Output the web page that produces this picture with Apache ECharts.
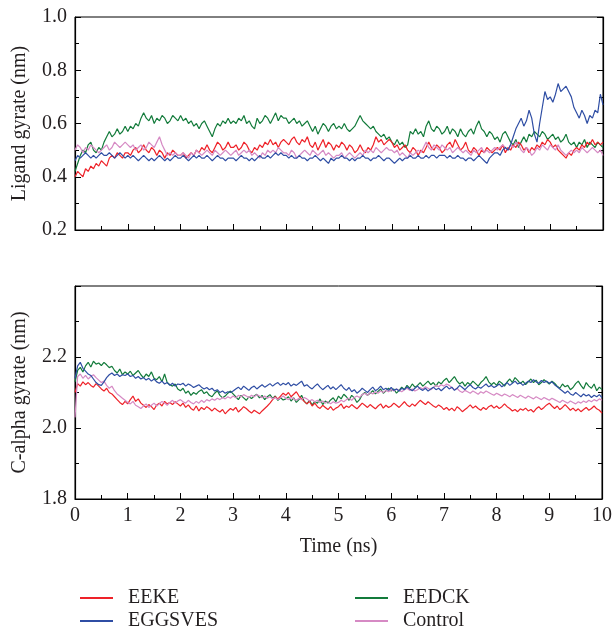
<!DOCTYPE html>
<html>
<head>
<meta charset="utf-8">
<script src="https://cdn.jsdelivr.net/npm/echarts@6/dist/echarts.min.js"></script>
<style>html,body{margin:0;padding:0;background:#fff}#c{width:615px;height:631px}</style>
</head>
<body>
<div id="c"></div>
<script>
// Sampling step of the trajectories (ns)
const timeStep = 0.05;
const seriesNames = ['EEKE', 'EGGSVES', 'EEDCK', 'Control'];
const xTicks = [0, 1, 2, 3, 4, 5, 6, 7, 8, 9, 10];
const ligandTicks = [0.2, 0.4, 0.6, 0.8, 1.0];
const calphaTicks = [1.8, 2.0, 2.2];

// ---- Ligand gyrate (nm) ----
const ligEEKE = [
0.40,0.42,0.41,0.40,0.43,0.42,0.44,0.43,0.45,0.44,0.46,0.45,0.44,0.47,0.48,0.47,0.49,0.48,0.47,0.49,
0.49,0.48,0.50,0.51,0.49,0.50,0.52,0.50,0.49,0.51,0.50,0.48,0.50,0.49,0.47,0.49,0.48,0.50,0.49,0.48,
0.48,0.49,0.47,0.48,0.49,0.48,0.50,0.49,0.51,0.50,0.52,0.50,0.49,0.51,0.53,0.52,0.50,0.51,0.53,0.51,
0.51,0.52,0.50,0.51,0.53,0.52,0.50,0.49,0.51,0.50,0.52,0.51,0.53,0.52,0.54,0.52,0.53,0.51,0.53,0.54,
0.53,0.52,0.54,0.55,0.53,0.52,0.54,0.53,0.55,0.52,0.51,0.53,0.50,0.52,0.54,0.51,0.53,0.52,0.50,0.52,
0.51,0.53,0.52,0.50,0.52,0.51,0.49,0.50,0.52,0.50,0.49,0.51,0.50,0.52,0.55,0.53,0.54,0.52,0.53,0.54,
0.53,0.51,0.52,0.50,0.51,0.52,0.50,0.49,0.51,0.50,0.48,0.50,0.49,0.51,0.53,0.51,0.50,0.52,0.51,0.49,
0.50,0.52,0.53,0.51,0.54,0.52,0.50,0.51,0.53,0.50,0.49,0.51,0.50,0.48,0.50,0.49,0.51,0.50,0.49,0.50,
0.51,0.50,0.52,0.49,0.51,0.50,0.52,0.51,0.53,0.52,0.50,0.51,0.49,0.51,0.50,0.52,0.51,0.53,0.52,0.54,
0.53,0.51,0.52,0.50,0.49,0.48,0.47,0.49,0.48,0.50,0.51,0.50,0.52,0.51,0.53,0.52,0.54,0.52,0.53,0.52,0.53];
const ligEGGSVES = [
0.46,0.48,0.47,0.48,0.49,0.48,0.47,0.48,0.47,0.48,0.49,0.48,0.48,0.49,0.48,0.47,0.48,0.49,0.48,0.47,
0.48,0.47,0.48,0.47,0.46,0.47,0.48,0.47,0.46,0.47,0.46,0.47,0.48,0.47,0.46,0.47,0.46,0.47,0.48,0.47,
0.47,0.48,0.47,0.46,0.47,0.48,0.47,0.48,0.47,0.47,0.48,0.47,0.46,0.47,0.48,0.47,0.47,0.46,0.47,0.47,
0.47,0.46,0.47,0.48,0.47,0.47,0.46,0.47,0.46,0.47,0.48,0.47,0.47,0.48,0.47,0.48,0.49,0.48,0.49,0.48,
0.48,0.47,0.48,0.47,0.47,0.48,0.47,0.47,0.46,0.47,0.47,0.48,0.47,0.46,0.47,0.46,0.45,0.47,0.46,0.47,
0.47,0.48,0.47,0.47,0.46,0.47,0.46,0.47,0.47,0.48,0.47,0.47,0.46,0.47,0.47,0.48,0.47,0.46,0.47,0.47,
0.46,0.45,0.46,0.47,0.46,0.47,0.47,0.48,0.47,0.47,0.48,0.47,0.47,0.48,0.47,0.48,0.48,0.47,0.48,0.48,
0.48,0.47,0.48,0.47,0.47,0.48,0.47,0.47,0.46,0.47,0.47,0.46,0.47,0.48,0.47,0.46,0.45,0.47,0.48,0.49,
0.49,0.48,0.50,0.51,0.50,0.52,0.55,0.58,0.60,0.62,0.59,0.61,0.65,0.62,0.56,0.53,0.60,0.66,0.72,0.69,
0.70,0.68,0.71,0.75,0.72,0.73,0.74,0.72,0.70,0.66,0.64,0.62,0.65,0.63,0.60,0.63,0.62,0.65,0.64,0.71,0.67];
const ligEEDCK = [
0.42,0.45,0.48,0.50,0.49,0.52,0.53,0.50,0.49,0.51,0.50,0.53,0.55,0.57,0.55,0.56,0.58,0.56,0.57,0.59,
0.57,0.59,0.58,0.60,0.59,0.62,0.64,0.62,0.61,0.63,0.60,0.62,0.61,0.63,0.62,0.60,0.61,0.63,0.62,0.61,
0.63,0.61,0.62,0.60,0.61,0.59,0.60,0.58,0.60,0.61,0.59,0.57,0.55,0.58,0.60,0.59,0.61,0.60,0.62,0.60,
0.61,0.60,0.62,0.61,0.63,0.60,0.61,0.59,0.58,0.62,0.60,0.61,0.63,0.62,0.60,0.62,0.64,0.61,0.63,0.62,
0.62,0.60,0.61,0.62,0.60,0.61,0.59,0.60,0.61,0.59,0.57,0.59,0.56,0.58,0.60,0.59,0.57,0.59,0.60,0.58,
0.59,0.58,0.60,0.58,0.57,0.58,0.59,0.61,0.63,0.61,0.60,0.59,0.58,0.59,0.57,0.56,0.55,0.56,0.54,0.55,
0.53,0.52,0.54,0.52,0.53,0.51,0.52,0.57,0.56,0.58,0.56,0.57,0.55,0.59,0.61,0.58,0.57,0.59,0.58,0.56,
0.57,0.59,0.56,0.58,0.57,0.55,0.58,0.56,0.55,0.57,0.58,0.56,0.59,0.61,0.58,0.57,0.55,0.57,0.56,0.54,
0.55,0.53,0.56,0.57,0.55,0.53,0.52,0.54,0.51,0.53,0.55,0.53,0.56,0.55,0.57,0.56,0.55,0.57,0.56,0.54,
0.55,0.56,0.54,0.55,0.53,0.54,0.56,0.53,0.52,0.53,0.51,0.53,0.52,0.54,0.51,0.53,0.52,0.51,0.53,0.52,0.51];
const ligControl = [
0.50,0.52,0.51,0.49,0.51,0.50,0.52,0.51,0.50,0.49,0.50,0.51,0.52,0.50,0.51,0.53,0.52,0.51,0.52,0.53,
0.52,0.51,0.52,0.50,0.51,0.52,0.50,0.51,0.53,0.52,0.51,0.53,0.55,0.52,0.50,0.48,0.49,0.48,0.49,0.48,
0.48,0.49,0.48,0.47,0.49,0.48,0.50,0.49,0.48,0.49,0.50,0.49,0.48,0.50,0.49,0.48,0.49,0.50,0.49,0.48,
0.49,0.50,0.48,0.49,0.50,0.49,0.50,0.48,0.49,0.48,0.47,0.49,0.48,0.50,0.49,0.50,0.49,0.51,0.50,0.49,
0.49,0.48,0.50,0.49,0.47,0.48,0.49,0.50,0.49,0.48,0.50,0.49,0.48,0.49,0.50,0.48,0.49,0.48,0.47,0.48,
0.48,0.49,0.47,0.48,0.49,0.48,0.47,0.48,0.49,0.48,0.50,0.49,0.50,0.49,0.51,0.50,0.49,0.50,0.51,0.50,
0.50,0.49,0.50,0.48,0.49,0.48,0.47,0.49,0.48,0.49,0.50,0.49,0.51,0.53,0.51,0.50,0.52,0.51,0.50,0.52,
0.51,0.50,0.51,0.49,0.50,0.51,0.50,0.49,0.50,0.49,0.48,0.50,0.49,0.50,0.51,0.49,0.50,0.49,0.50,0.51,
0.50,0.51,0.52,0.51,0.50,0.52,0.51,0.53,0.52,0.50,0.49,0.51,0.50,0.48,0.49,0.51,0.50,0.52,0.51,0.50,
0.52,0.51,0.50,0.52,0.50,0.49,0.48,0.49,0.50,0.49,0.50,0.49,0.51,0.50,0.49,0.50,0.51,0.50,0.49,0.50,0.48];

// ---- C-alpha gyrate (nm) ----
const caEEKE = [
2.100,2.125,2.118,2.130,2.122,2.128,2.120,2.115,2.125,2.118,2.110,2.104,2.112,2.100,2.096,2.088,2.080,2.072,2.066,2.075,
2.068,2.080,2.090,2.075,2.082,2.070,2.064,2.058,2.066,2.060,2.052,2.065,2.070,2.062,2.075,2.068,2.072,2.066,2.074,2.068,
2.062,2.070,2.058,2.065,2.055,2.050,2.062,2.048,2.058,2.052,2.060,2.055,2.048,2.056,2.050,2.045,2.052,2.040,2.048,2.055,
2.050,2.058,2.045,2.052,2.060,2.055,2.048,2.042,2.050,2.045,2.040,2.048,2.055,2.062,2.070,2.080,2.088,2.082,2.090,2.098,
2.092,2.100,2.088,2.095,2.102,2.090,2.082,2.075,2.068,2.075,2.062,2.070,2.060,2.055,2.064,2.058,2.052,2.060,2.050,2.056,
2.060,2.068,2.055,2.062,2.058,2.066,2.060,2.054,2.062,2.070,2.064,2.058,2.066,2.060,2.054,2.062,2.068,2.056,2.064,2.058,
2.062,2.070,2.064,2.058,2.066,2.074,2.065,2.060,2.068,2.062,2.070,2.078,2.072,2.066,2.074,2.068,2.062,2.058,2.065,2.060,
2.052,2.058,2.050,2.056,2.048,2.060,2.054,2.046,2.052,2.058,2.065,2.056,2.062,2.055,2.050,2.058,2.052,2.060,2.064,2.056,
2.062,2.055,2.060,2.068,2.060,2.055,2.048,2.052,2.046,2.054,2.050,2.056,2.048,2.052,2.045,2.054,2.060,2.052,2.058,2.065,
2.070,2.062,2.055,2.062,2.052,2.058,2.066,2.058,2.050,2.056,2.048,2.054,2.046,2.052,2.058,2.050,2.055,2.062,2.054,2.050,2.042];
const caEGGSVES = [
2.140,2.175,2.185,2.168,2.160,2.152,2.148,2.138,2.128,2.122,2.120,2.130,2.142,2.150,2.155,2.148,2.152,2.145,2.150,2.148,
2.152,2.145,2.148,2.140,2.145,2.138,2.142,2.135,2.140,2.132,2.138,2.130,2.126,2.132,2.124,2.128,2.120,2.126,2.118,2.124,
2.122,2.126,2.118,2.124,2.120,2.114,2.118,2.122,2.115,2.110,2.114,2.108,2.112,2.104,2.108,2.100,2.104,2.098,2.102,2.100,
2.104,2.110,2.115,2.108,2.118,2.112,2.106,2.114,2.118,2.110,2.116,2.122,2.115,2.120,2.125,2.118,2.124,2.128,2.120,2.126,
2.122,2.128,2.118,2.124,2.120,2.126,2.132,2.118,2.122,2.115,2.110,2.118,2.124,2.115,2.108,2.114,2.120,2.110,2.116,2.108,
2.115,2.122,2.112,2.106,2.114,2.102,2.108,2.098,2.104,2.112,2.106,2.100,2.108,2.115,2.105,2.110,2.118,2.108,2.112,2.106,
2.114,2.106,2.110,2.104,2.112,2.108,2.116,2.110,2.105,2.112,2.118,2.110,2.106,2.112,2.104,2.110,2.115,2.108,2.112,2.105,
2.112,2.118,2.110,2.115,2.106,2.112,2.120,2.114,2.108,2.116,2.122,2.114,2.110,2.116,2.112,2.118,2.124,2.116,2.120,2.114,
2.118,2.124,2.116,2.122,2.128,2.120,2.126,2.132,2.124,2.128,2.120,2.126,2.132,2.128,2.136,2.130,2.126,2.134,2.128,2.132,
2.126,2.130,2.122,2.116,2.110,2.104,2.098,2.104,2.096,2.092,2.100,2.094,2.088,2.096,2.090,2.094,2.086,2.092,2.088,2.094,2.086];
const caEEDCK = [
2.130,2.162,2.171,2.158,2.175,2.185,2.172,2.188,2.180,2.183,2.176,2.185,2.178,2.170,2.174,2.162,2.155,2.166,2.150,2.158,
2.152,2.160,2.148,2.155,2.162,2.150,2.141,2.152,2.145,2.158,2.140,2.136,2.145,2.130,2.152,2.128,2.122,2.118,2.124,2.110,
2.105,2.112,2.098,2.104,2.092,2.100,2.095,2.103,2.108,2.097,2.102,2.092,2.088,2.098,2.105,2.092,2.085,2.090,2.098,2.104,
2.096,2.088,2.080,2.092,2.085,2.078,2.088,2.083,2.090,2.095,2.085,2.092,2.080,2.088,2.094,2.083,2.090,2.078,2.085,2.079,
2.082,2.088,2.076,2.085,2.072,2.080,2.092,2.075,2.068,2.078,2.065,2.075,2.070,2.082,2.066,2.076,2.070,2.079,2.085,2.074,
2.090,2.082,2.095,2.088,2.078,2.092,2.085,2.072,2.080,2.094,2.100,2.092,2.098,2.105,2.096,2.103,2.110,2.098,2.105,2.112,
2.104,2.110,2.098,2.106,2.115,2.108,2.120,2.112,2.124,2.115,2.120,2.128,2.118,2.125,2.132,2.122,2.128,2.118,2.130,2.124,
2.134,2.140,2.128,2.136,2.145,2.132,2.124,2.130,2.118,2.128,2.122,2.132,2.125,2.118,2.128,2.135,2.145,2.130,2.122,2.128,
2.120,2.132,2.126,2.118,2.130,2.138,2.128,2.142,2.134,2.125,2.132,2.122,2.130,2.138,2.128,2.135,2.122,2.128,2.136,2.130,
2.124,2.132,2.126,2.118,2.112,2.124,2.116,2.120,2.108,2.114,2.125,2.132,2.120,2.110,2.128,2.118,2.112,2.124,2.105,2.115,2.108];
const caControl = [
2.030,2.145,2.152,2.140,2.148,2.138,2.145,2.150,2.142,2.135,2.128,2.132,2.120,2.112,2.118,2.105,2.096,2.090,2.084,2.078,
2.072,2.068,2.075,2.064,2.060,2.055,2.062,2.068,2.058,2.064,2.070,2.062,2.068,2.075,2.070,2.064,2.072,2.078,2.070,2.076,
2.080,2.074,2.070,2.078,2.072,2.068,2.075,2.070,2.078,2.072,2.080,2.076,2.082,2.078,2.084,2.080,2.086,2.082,2.088,2.084,
2.090,2.085,2.092,2.088,2.094,2.090,2.086,2.092,2.088,2.094,2.090,2.085,2.090,2.084,2.088,2.082,2.086,2.080,2.085,2.090,
2.084,2.080,2.086,2.082,2.078,2.084,2.080,2.086,2.082,2.076,2.080,2.074,2.078,2.072,2.076,2.070,2.075,2.068,2.074,2.070,
2.072,2.078,2.074,2.080,2.084,2.078,2.086,2.090,2.086,2.094,2.098,2.092,2.100,2.096,2.102,2.098,2.104,2.100,2.106,2.102,
2.108,2.104,2.110,2.106,2.102,2.108,2.112,2.106,2.110,2.104,2.108,2.114,2.110,2.116,2.112,2.108,2.114,2.120,2.116,2.122,
2.118,2.124,2.120,2.114,2.108,2.112,2.104,2.100,2.106,2.102,2.098,2.104,2.100,2.095,2.102,2.098,2.104,2.100,2.096,2.092,
2.098,2.094,2.090,2.096,2.092,2.088,2.094,2.090,2.086,2.092,2.088,2.084,2.090,2.086,2.082,2.088,2.084,2.080,2.086,2.082,
2.078,2.084,2.080,2.076,2.072,2.078,2.074,2.070,2.076,2.072,2.068,2.074,2.070,2.076,2.072,2.078,2.074,2.080,2.076,2.082,2.078];

const colors = { EEKE: '#ee2229', EGGSVES: '#2f4ea4', EEDCK: '#137b3b', Control: '#d68ac4' };
const FONT = '"Liberation Serif", "DejaVu Serif", serif';
const TXT = '#231f20';

function pairs(arr) { return arr.map((v, i) => [+(i * timeStep).toFixed(2), v]); }

const chart = echarts.init(document.getElementById('c'), null, { renderer: 'canvas' });

const grids = [
  { left: 75, right: 12, top: 17, height: 213, show: true, borderColor: '#000', borderWidth: 1 },
  { left: 75, right: 12, top: 286, height: 213, show: true, borderColor: '#000', borderWidth: 1 }
];

function xAxis(gi, showLabels) {
  return {
    type: 'value', gridIndex: gi, min: xTicks[0], max: xTicks[xTicks.length - 1], interval: 1,
    axisLine: { show: true, lineStyle: { color: '#000', width: 1.2 } },
    axisTick: { show: true, inside: true, length: 6, lineStyle: { color: '#000' } },
    minorTick: { show: true, splitNumber: 2, length: 4, lineStyle: { color: '#000' } },
    splitLine: { show: false },
    axisLabel: { show: showLabels, fontFamily: FONT, fontSize: 20, color: TXT, margin: 7 },
    name: showLabels ? 'Time (ns)' : '', nameLocation: 'middle', nameGap: 38,
    nameTextStyle: { fontFamily: FONT, fontSize: 20, color: TXT }
  };
}
function yAxis(gi, ticks, minV, maxV, name, right) {
  return {
    type: 'value', gridIndex: gi, min: minV, max: maxV, interval: 0.2, position: right ? 'right' : 'left',
    axisLine: { show: true, lineStyle: { color: '#000', width: 1.2 } },
    axisTick: { show: true, inside: true, length: 6, lineStyle: { color: '#000' } },
    minorTick: { show: true, splitNumber: 2, length: 4, lineStyle: { color: '#000' } },
    splitLine: { show: false },
    axisLabel: {
      show: !right, fontFamily: FONT, fontSize: 20, color: TXT, margin: 8,
      formatter: v => { const t = ticks.find(x => Math.abs(x - v) < 1e-6); return t === undefined ? '' : t.toFixed(1); }
    },
    name: right ? '' : name, nameLocation: 'middle', nameGap: 45,
    nameTextStyle: { fontFamily: FONT, fontSize: 20, color: TXT }
  };
}

const ligData = { EEKE: ligEEKE, EGGSVES: ligEGGSVES, EEDCK: ligEEDCK, Control: ligControl };
const caData = { EEKE: caEEKE, EGGSVES: caEGGSVES, EEDCK: caEEDCK, Control: caControl };
const drawOrder = ['EEDCK', 'EEKE', 'Control', 'EGGSVES'];
const series = [];
drawOrder.forEach(n => {
  series.push({ name: n, type: 'line', xAxisIndex: 0, yAxisIndex: 0, data: pairs(ligData[n]), showSymbol: false, symbol: 'none', color: colors[n], lineStyle: { width: 1.2, color: colors[n] }, animation: false });
});
drawOrder.forEach(n => {
  series.push({ name: n, type: 'line', xAxisIndex: 1, yAxisIndex: 2, data: pairs(caData[n]), showSymbol: false, symbol: 'none', color: colors[n], lineStyle: { width: 1.2, color: colors[n] }, animation: false });
});

function legendItem(name, left, top) {
  return { data: [name], orient: 'horizontal', left: left, top: top, icon: 'rect', itemWidth: 33, itemHeight: 2,
    selectedMode: false, padding: 0,
    textStyle: { fontFamily: FONT, fontSize: 20, color: TXT, padding: [0, 0, 0, 10] } };
}

chart.setOption({
  backgroundColor: '#fff',
  animation: false,
  grid: grids,
  xAxis: [xAxis(0, false), xAxis(1, true)],
  yAxis: [
    yAxis(0, ligandTicks, 0.2, 1.0, 'Ligand gyrate (nm)', false),
    yAxis(0, ligandTicks, 0.2, 1.0, '', true),
    yAxis(1, calphaTicks, 1.8, 2.4, 'C-alpha gyrate (nm)', false),
    yAxis(1, calphaTicks, 1.8, 2.4, '', true)
  ],
  legend: [
    legendItem(seriesNames[0], 80, 588),
    legendItem(seriesNames[1], 80, 611),
    legendItem(seriesNames[2], 355, 588),
    legendItem(seriesNames[3], 355, 611)
  ],
  series: series
});
</script>
</body>
</html>
